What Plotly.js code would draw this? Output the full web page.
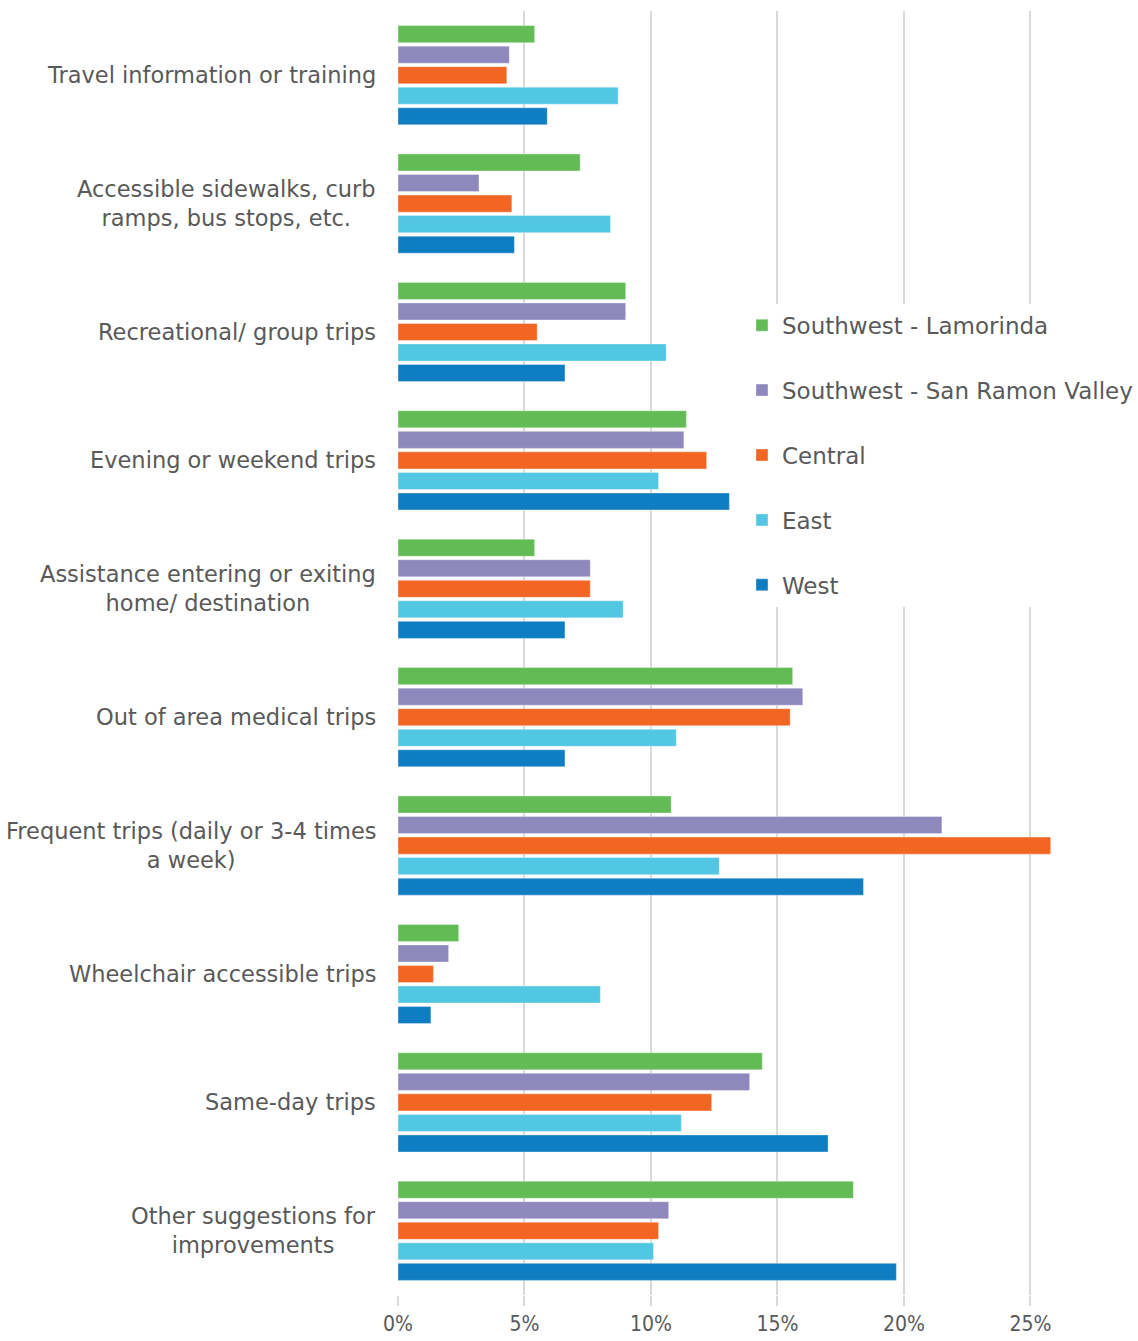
<!DOCTYPE html>
<html>
<head>
<meta charset="utf-8">
<script src="https://cdn.plot.ly/plotly-3.0.1.min.js"></script>
<style>html,body{margin:0;padding:0;background:#fff;}#chart{width:1138px;height:1341px;}</style>
</head>
<body>
<div id="chart"></div>
<script>
const categories = [
  "Travel information or training",
  "Accessible sidewalks, curb<br>ramps, bus stops, etc.",
  "Recreational/ group trips",
  "Evening or weekend trips",
  "Assistance entering or exiting<br>home/ destination",
  "Out of area medical trips",
  "Frequent trips (daily or 3-4 times<br>a week)",
  "Wheelchair accessible trips",
  "Same-day trips",
  "Other suggestions for<br>improvements"
];
const seriesNames = ["Southwest - Lamorinda", "Southwest - San Ramon Valley", "Central", "East", "West"];
const lamorinda   = [5.4, 7.2, 9.0, 11.4, 5.4, 15.6, 10.8, 2.4, 14.4, 18.0];
const sanRamon    = [4.4, 3.2, 9.0, 11.3, 7.6, 16.0, 21.5, 2.0, 13.9, 10.7];
const central     = [4.3, 4.5, 5.5, 12.2, 7.6, 15.5, 25.8, 1.4, 12.4, 10.3];
const east        = [8.7, 8.4, 10.6, 10.3, 8.9, 11.0, 12.7, 8.0, 11.2, 10.1];
const west        = [5.9, 4.6, 6.6, 13.1, 6.6, 6.6, 18.4, 1.3, 17.0, 19.7];
const tickVals    = [0, 5, 10, 15, 20, 25];
const tickText    = ["0%", "5%", "10%", "15%", "20%", "25%"];

const seriesValues = [lamorinda, sanRamon, central, east, west];
const colors = ["#62BB55", "#8E88BD", "#F26522", "#52C7E3", "#0F7DC2"];

const traces = seriesNames.map((name, i) => ({
  type: "bar",
  orientation: "h",
  name: name,
  x: seriesValues[i],
  y: categories,
  legendgroup: "g" + i,
  marker: { color: colors[i], line: { color: "rgba(255,255,255,0.35)", width: 1 } },
  hoverinfo: "x+name"
}));

const annotations = categories.map(c => ({
  xref: "paper", yref: "y",
  x: 0, y: c,
  xanchor: "right", yanchor: "middle",
  xshift: -20,
  text: c,
  align: "center",
  showarrow: false,
  font: { family: "DejaVu Sans, Lato, sans-serif", size: 22.5, color: "#595959" }
}));

const layout = {
  width: 1138, height: 1341,
  margin: { l: 398, r: 38, t: 11, b: 46, autoexpand: false },
  paper_bgcolor: "#ffffff",
  plot_bgcolor: "#ffffff",
  barmode: "group",
  bargap: 0.2,
  bargroupgap: 0.17,
  showlegend: true,
  legend: {
    x: 0.49, y: 0.772, xanchor: "left", yanchor: "top",
    bgcolor: "#ffffff",
    traceorder: "grouped",
    tracegroupgap: 32,
    font: { family: "DejaVu Sans, Lato, sans-serif", size: 23, color: "#595959" },
    itemwidth: 30
  },
  xaxis: {
    range: [0, 27.75],
    tickvals: tickVals,
    ticktext: tickText,
    showgrid: true,
    gridcolor: "#D9D9D9",
    gridwidth: 2,
    zeroline: false,
    showline: false,
    ticks: "outside",
    ticklen: 10,
    tickwidth: 2,
    tickcolor: "#D9D9D9",
    ticklabelstandoff: 0,
    tickfont: { family: "DejaVu Sans Condensed, Liberation Sans Narrow, sans-serif", size: 21, color: "#595959" },
    fixedrange: true
  },
  yaxis: {
    type: "category",
    autorange: "reversed",
    showticklabels: false,
    showgrid: false,
    zeroline: false,
    ticks: "",
    fixedrange: true
  },
  annotations: annotations
};

Plotly.newPlot("chart", traces, layout, { displayModeBar: false, staticPlot: true });
</script>
</body>
</html>
